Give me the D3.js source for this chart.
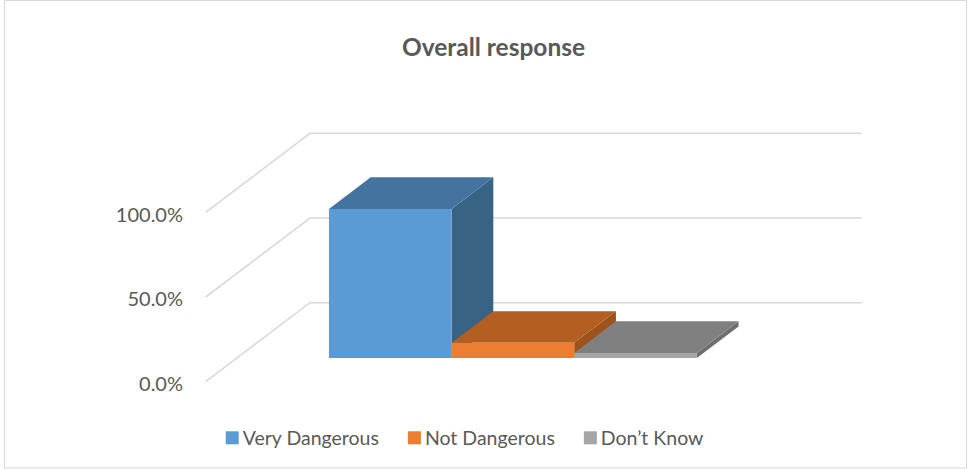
<!DOCTYPE html>
<html>
<head>
<meta charset="utf-8">
<script src="https://cdn.jsdelivr.net/npm/d3@7"></script>
<style>
  html, body { margin: 0; padding: 0; background: #fff; }
  svg { display: block; }
  text { font-family: Lato, "Open Sans", "Liberation Sans", sans-serif; fill: #595959; }
</style>
</head>
<body>
<svg id="chart" width="971" height="469"></svg>
<script>
// Chart data
const title = "Overall response";
const seriesNames = ["Very Dangerous", "Not Dangerous", "Don\u2019t Know"];
const seriesValues = [0.88, 0.09, 0.03];
const tickValues = [0, 0.5, 1.0];

// Face colours per series: front, top, side
const frontColors = ["#5b9bd5", "#ed7d31", "#a5a5a5"];
const topColors   = ["#44739f", "#b45e22", "#808080"];
const sideColors  = ["#386384", "#9e531d", "#6e6e6e"];

const svg = d3.select("#chart");

// Oblique 3D layout: floor front-left corner, floor width, depth offset
const floorX = 205.7, floorW = 551.8;
const depthDX = 104.3, depthDY = -79;
const zFront = 0.30, zBack = 0.70;

const y = d3.scaleLinear().domain([0, 1]).range([381.7, 212.3]);
const x = d3.scaleBand()
  .domain(seriesNames)
  .range([floorX, floorX + floorW])
  .paddingInner(0)
  .paddingOuter(0.75);

// project (front-plane x, value, depth fraction) to screen
const P = (px, v, z) => [px + z * depthDX, y(v) + z * depthDY];

// Chart area border
svg.append("rect")
  .attr("x", 4.5).attr("y", 0.5)
  .attr("width", 962).attr("height", 467.5)
  .attr("fill", "#fff")
  .attr("stroke", "#d9d9d9").attr("stroke-width", 1);

// Title
svg.append("text")
  .attr("x", 493.5).attr("y", 55.5)
  .attr("text-anchor", "middle")
  .style("font-size", "24.5px").style("font-weight", "bold")
  .text(title);

// Gridlines: side wall diagonal + back wall horizontal
const line = d3.line();
svg.append("g").selectAll("path")
  .data(tickValues)
  .join("path")
  .attr("d", v => line([P(floorX, v, 0), P(floorX, v, 1), P(floorX + floorW, v, 1)]))
  .attr("fill", "none")
  .attr("stroke", "#d9d9d9")
  .attr("stroke-width", 1.6);

// Value axis labels at the front edge
const axis = d3.axisLeft(y)
  .tickValues(tickValues)
  .tickFormat(d3.format(".1%"))
  .tickSize(0)
  .tickPadding(0);
const axisG = svg.append("g")
  .attr("transform", "translate(183,2.5)")
  .call(axis);
axisG.select(".domain").remove();
axisG.selectAll("text")
  .style("font-size", "20px")
  .style("font-family", "Lato, 'Open Sans', sans-serif")
  .attr("fill", "#595959");

// Bars, drawn left to right so each bar hides the side of the previous one
const poly = pts => "M" + pts.map(p => p.join(",")).join("L") + "Z";
const bars = svg.append("g").selectAll("g")
  .data(seriesNames.map((name, i) => ({ name, value: seriesValues[i], i })))
  .join("g");

bars.each(function (d) {
  const g = d3.select(this);
  const x0 = x(d.name), x1 = x0 + x.bandwidth();
  // right side face
  g.append("path")
    .attr("d", poly([P(x1, 0, zFront), P(x1, 0, zBack), P(x1, d.value, zBack), P(x1, d.value, zFront)]))
    .attr("fill", sideColors[d.i]);
  // top face
  g.append("path")
    .attr("d", poly([P(x0, d.value, zFront), P(x1, d.value, zFront), P(x1, d.value, zBack), P(x0, d.value, zBack)]))
    .attr("fill", topColors[d.i]);
  // front face
  g.append("path")
    .attr("d", poly([P(x0, 0, zFront), P(x1, 0, zFront), P(x1, d.value, zFront), P(x0, d.value, zFront)]))
    .attr("fill", frontColors[d.i]);
});

// Legend
const legend = svg.append("g");
const items = legend.selectAll("g")
  .data(seriesNames)
  .join("g");
items.append("rect")
  .attr("width", 13).attr("height", 13)
  .attr("y", 431.3)
  .attr("fill", (d, i) => frontColors[i]);
items.append("text")
  .attr("x", 17).attr("y", 445)
  .style("font-size", "19.5px")
  .text(d => d);
const widths = [];
items.each(function () {
  widths.push(d3.select(this).select("text").node().getComputedTextLength());
});
const gap = 29;
let cursor = 225.7;
items.attr("transform", (d, i) => {
  const t = `translate(${cursor},0)`;
  cursor += 17 + widths[i] + gap;
  return t;
});
</script>
</body>
</html>
